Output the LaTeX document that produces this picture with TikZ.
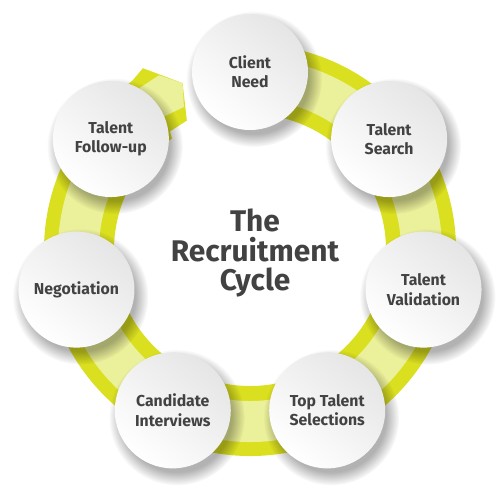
\documentclass[tikz,border=0pt]{standalone}
\usepackage{fontspec}
\setmainfont{Fira Sans}
\usetikzlibrary{fadings}

\definecolor{limedark}{RGB}{218,223,32}
\definecolor{limelight}{RGB}{235,240,154}
\definecolor{textgray}{RGB}{66,66,66}

\tikzset{
  stage/.style={circle, minimum size=3.48cm, inner sep=0pt, align=center,
    top color=gray!20, bottom color=white, shading angle=-40,
    text=textgray, font=\fontsize{13.5}{16.5}\selectfont\bfseries},
  stageshadow/.style={fill=black, opacity=.3, path fading=circle with fuzzy edge 20 percent},
  title/.style={align=center, text=textgray, font=\fontsize{25.5}{25.5}\selectfont\bfseries}
}

\begin{document}
\begin{tikzpicture}[x=0.03cm, y=0.03cm]
\useasboundingbox (-250,-250) rectangle (250,250);
% ring with arrow end
\fill[limedark] (80:206) arc[start angle=80, end angle=-235, radius=206] -- (120.5:211) -- (112:180) -- (116:144) -- (124:143) -- (-235:136) arc[start angle=-235, end angle=80, radius=136] -- cycle;
\fill[limelight] (80:192) arc[start angle=80, end angle=-235, radius=192] -- (124.2:196) -- (117.5:197) -- (112:180) -- (114.8:157.5) -- (123.2:159) -- (-235:151) arc[start angle=-235, end angle=80, radius=151] -- cycle;
% shadows
\foreach \a in {90,38.571,-12.857,-64.286,-115.714,-167.143,141.429}
  \fill[stageshadow] ([shift={(4,-7)}]\a:178) circle (68);
% stages
\node[stage] (need) at (90:178) {Client\\Need};
\node[stage] (search) at (38.571:178) {Talent\\Search};
\node[stage] (validation) at (-12.857:178) {Talent\\Validation};
\node[stage] (selections) at (-64.286:178) {Top Talent\\Selections};
\node[stage] (interviews) at (-115.714:178) {Candidate\\Interviews};
\node[stage] (negotiation) at (-167.143:178) {Negotiation};
\node[stage] (followup) at (141.429:178) {Talent\\Follow-up};
\node[title] (cycle) at (5,-3) {The\\Recruitment\\Cycle};
\end{tikzpicture}
\end{document}
